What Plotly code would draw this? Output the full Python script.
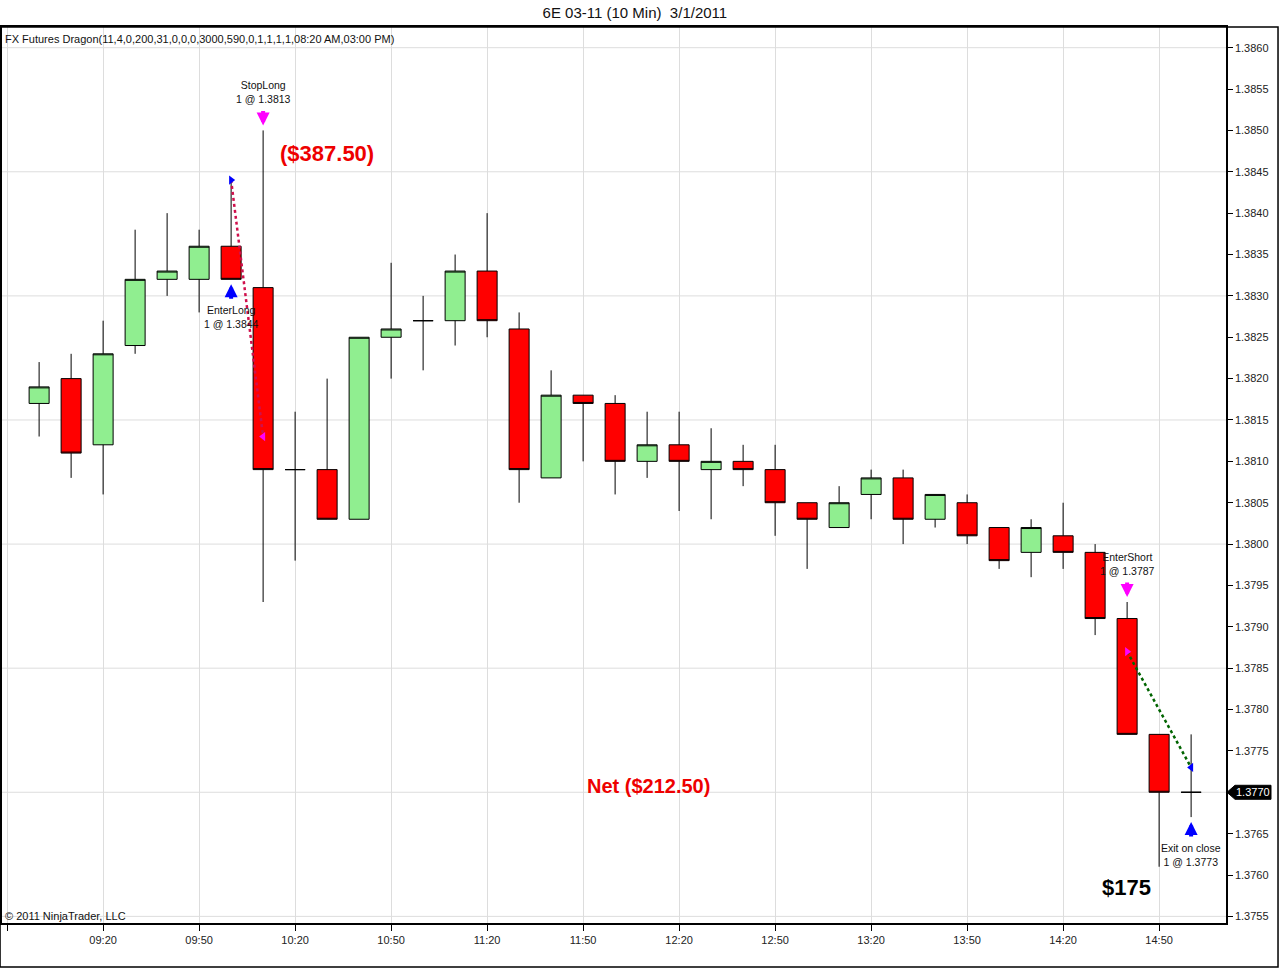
import pandas as pd
import plotly.graph_objects as go

# 10 minute bars, 6E 03-11, 3/1/2011
times = ["09:00", "09:10", "09:20", "09:30", "09:40", "09:50", "10:00", "10:10",
         "10:20", "10:30", "10:40", "10:50", "11:00", "11:10", "11:20", "11:30",
         "11:40", "11:50", "12:00", "12:10", "12:20", "12:30", "12:40", "12:50",
         "13:00", "13:10", "13:20", "13:30", "13:40", "13:50", "14:00", "14:10",
         "14:20", "14:30", "14:40", "14:50", "15:00"]
opens = [1.3817, 1.3820, 1.3812, 1.3824, 1.3832, 1.3832, 1.3836, 1.3831,
         1.3809, 1.3809, 1.3803, 1.3825, 1.3827, 1.3827, 1.3833, 1.3826,
         1.3808, 1.3818, 1.3817, 1.3810, 1.3812, 1.3809, 1.3810, 1.3809,
         1.3805, 1.3802, 1.3806, 1.3808, 1.3803, 1.3805, 1.3802, 1.3799,
         1.3801, 1.3799, 1.3791, 1.3777, 1.3770]
highs = [1.3822, 1.3823, 1.3827, 1.3838, 1.3840, 1.3838, 1.3844, 1.3850,
         1.3816, 1.3820, 1.3825, 1.3834, 1.3830, 1.3835, 1.3840, 1.3828,
         1.3821, 1.3818, 1.3818, 1.3816, 1.3816, 1.3814, 1.3812, 1.3812,
         1.3805, 1.3807, 1.3809, 1.3809, 1.3806, 1.3806, 1.3802, 1.3803,
         1.3805, 1.3800, 1.3793, 1.3777, 1.3777]
lows = [1.3813, 1.3808, 1.3806, 1.3823, 1.3830, 1.3828, 1.3832, 1.3793,
        1.3798, 1.3803, 1.3803, 1.3820, 1.3821, 1.3824, 1.3825, 1.3805,
        1.3808, 1.3810, 1.3806, 1.3808, 1.3804, 1.3803, 1.3807, 1.3801,
        1.3797, 1.3802, 1.3803, 1.3800, 1.3802, 1.3800, 1.3797, 1.3796,
        1.3797, 1.3789, 1.3777, 1.3761, 1.3767]
closes = [1.3819, 1.3811, 1.3823, 1.3832, 1.3833, 1.3836, 1.3832, 1.3809,
          1.3809, 1.3803, 1.3825, 1.3826, 1.3827, 1.3833, 1.3827, 1.3809,
          1.3818, 1.3817, 1.3810, 1.3812, 1.3810, 1.3810, 1.3809, 1.3805,
          1.3803, 1.3805, 1.3808, 1.3803, 1.3806, 1.3801, 1.3798, 1.3802,
          1.3799, 1.3791, 1.3777, 1.3770, 1.3770]

# trades
entry_times = ["10:00", "14:40"]
entry_prices = [1.3844, 1.3787]
entry_names = ["EnterLong", "EnterShort"]
exit_times = ["10:10", "15:00"]
exit_prices = [1.3813, 1.3773]
exit_names = ["StopLong", "Exit on close"]
sides = ["long", "short"]
trade_colors = ["#D0104C", "#006400"]

trade_pnl = ["($387.50)", "$175"]
trade_pnl_colors = ["#EE0000", "#000000"]
net_pnl = "Net ($212.50)"

title = "6E 03-11 (10 Min) \u00a03/1/2011"
strategy = "FX Futures Dragon(11,4,0,200,31,0,0,0,3000,590,0,1,1,1,1,08:20 AM,03:00 PM)"
copyright_txt = "\u00a9 2011 NinjaTrader, LLC"

DAY = "2011-03-01 "
YMIN, YMAX = 1.37542, 1.38625

def ts(t):
    return pd.Timestamp(DAY + t)

dt = [ts(t) for t in times]
bar = {t: i for i, t in enumerate(times)}

FONT = "Liberation Sans, Arial, sans-serif"
BLUE = "#0000FF"
MAGENTA = "#FF00FF"

fig = go.Figure()

fig.add_trace(go.Candlestick(
    x=dt, open=opens, high=highs, low=lows, close=closes,
    increasing=dict(fillcolor="#90EE90", line=dict(color="black", width=1)),
    decreasing=dict(fillcolor="#FF0000", line=dict(color="black", width=1)),
    whiskerwidth=0, showlegend=False, hoverinfo="x+y",
))

annotations = []

for k in range(len(sides)):
    fig.add_trace(go.Scatter(
        x=[ts(entry_times[k]), ts(exit_times[k])],
        y=[entry_prices[k], exit_prices[k]],
        mode="lines", line=dict(color=trade_colors[k], width=2.5, dash="dot"),
        showlegend=False, hoverinfo="skip",
    ))
    buy_first = sides[k] == "long"
    acts = [
        (entry_times[k], entry_prices[k], entry_names[k], "triangle-right", buy_first),
        (exit_times[k], exit_prices[k], exit_names[k], "triangle-left", not buy_first),
    ]
    for t, p, name, sym, is_buy in acts:
        col = BLUE if is_buy else MAGENTA
        fig.add_trace(go.Scatter(
            x=[ts(t)], y=[p], mode="markers",
            marker=dict(symbol=sym, size=8, color=col),
            showlegend=False, hoverinfo="skip",
        ))
        i = bar[t]
        label = f"{name}<br>1 @ {p:.4f}"
        if is_buy:
            annotations.append(dict(x=ts(t), y=lows[i], xref="x", yref="y", text="",
                                    showarrow=True, ax=0, ay=21, arrowhead=2,
                                    arrowsize=0.65, arrowwidth=4, arrowcolor=col, standoff=5))
            annotations.append(dict(x=ts(t), y=lows[i], xref="x", yref="y", text=label,
                                    showarrow=False, yanchor="top", yshift=-23,
                                    font=dict(family=FONT, size=10.5, color="#111111")))
        else:
            annotations.append(dict(x=ts(t), y=highs[i], xref="x", yref="y", text="",
                                    showarrow=True, ax=0, ay=-21, arrowhead=2,
                                    arrowsize=0.65, arrowwidth=4, arrowcolor=col, standoff=5))
            annotations.append(dict(x=ts(t), y=highs[i], xref="x", yref="y", text=label,
                                    showarrow=False, yanchor="bottom", yshift=23,
                                    font=dict(family=FONT, size=10.5, color="#111111")))

# profit / loss texts
pnl_pos = [(0.2655, 0.859, 22), (0.919, 0.040, 22)]
for k, txt in enumerate(trade_pnl):
    px, py, sz = pnl_pos[k]
    annotations.append(dict(x=px, y=py, xref="paper", yref="paper", text=f"<b>{txt}</b>",
                            showarrow=False, xanchor="center", yanchor="middle",
                            font=dict(family=FONT, size=sz, color=trade_pnl_colors[k])))
annotations.append(dict(x=0.5278, y=0.1529, xref="paper", yref="paper",
                        text=f"<b>{net_pnl}</b>", showarrow=False,
                        xanchor="center", yanchor="middle",
                        font=dict(family=FONT, size=20, color="#EE0000")))

annotations.append(dict(x=0.001, y=0.9866, xref="paper", yref="paper", text=strategy,
                        showarrow=False, xanchor="left", yanchor="middle",
                        font=dict(family=FONT, size=11, color="#111111")))
annotations.append(dict(x=0.001, y=0.008, xref="paper", yref="paper", text=copyright_txt,
                        showarrow=False, xanchor="left", yanchor="middle",
                        font=dict(family=FONT, size=11, color="#111111")))

# last price tag on the price axis
last = closes[-1]
last_py = (last - YMIN) / (YMAX - YMIN)
annotations.append(dict(x=1, y=last_py, xref="paper", yref="paper", text=f"{last:.4f}",
                        showarrow=False, xanchor="left", xshift=8, yanchor="middle",
                        font=dict(family=FONT, size=11, color="white")))

shapes = []
# horizontal grid every 0.0015
for g in [1.3755 + 0.0015 * k for k in range(8)]:
    shapes.append(dict(type="line", xref="paper", yref="y", x0=0, x1=1, y0=g, y1=g,
                       line=dict(color="#DDDDDD", width=1), layer="below"))
shapes.append(dict(type="path", xref="paper", yref="paper", xsizemode="pixel",
                   ysizemode="pixel", xanchor=1, yanchor=last_py,
                   path="M 1 0 L 9 7 L 45 7 L 45 -7 L 9 -7 Z",
                   fillcolor="black", line=dict(color="black", width=1)))
# outer frame
shapes.append(dict(type="rect", xref="paper", yref="paper", x0=-0.0016, x1=1.0425,
                   y0=-0.0491, y1=1.0, line=dict(color="black", width=1.5)))

fig.update_layout(
    width=1280, height=969,
    margin=dict(l=2, r=54, t=27, b=46),
    paper_bgcolor="white", plot_bgcolor="white",
    title=dict(text=title, x=0.496, xref="container", y=0.9866, yanchor="middle",
               font=dict(family=FONT, size=15, color="#111111")),
    boxgap=0.375, boxgroupgap=0,
    annotations=annotations,
    shapes=shapes,
    showlegend=False,
    font=dict(family=FONT, size=11, color="#222222"),
)

fig.update_xaxes(
    type="date",
    range=[dt[0] - pd.Timedelta(minutes=11.6), dt[-1] + pd.Timedelta(minutes=10.9)],
    tick0=DAY + "09:20", dtick=30 * 60 * 1000, tickformat="%H:%M",
    showgrid=True, gridcolor="#DDDDDD", gridwidth=1,
    ticks="outside", ticklen=6, tickcolor="black",
    showline=True, linecolor="black", linewidth=1.5, mirror=True,
    rangeslider=dict(visible=False), zeroline=False, automargin=False,
    tickfont=dict(family=FONT, size=11, color="#222222"),
)
fig.update_yaxes(
    range=[YMIN, YMAX], side="right", dtick=0.0005, tick0=1.3755, tickformat=".4f",
    showgrid=False, ticks="outside", ticklen=5, tickcolor="black",
    showline=True, linecolor="black", linewidth=1.5, mirror=True,
    zeroline=False, automargin=False,
    tickfont=dict(family=FONT, size=11, color="#222222"),
)

fig.write_html("out.html", config={"displayModeBar": False},
               post_script="document.body.style.margin='0';")
